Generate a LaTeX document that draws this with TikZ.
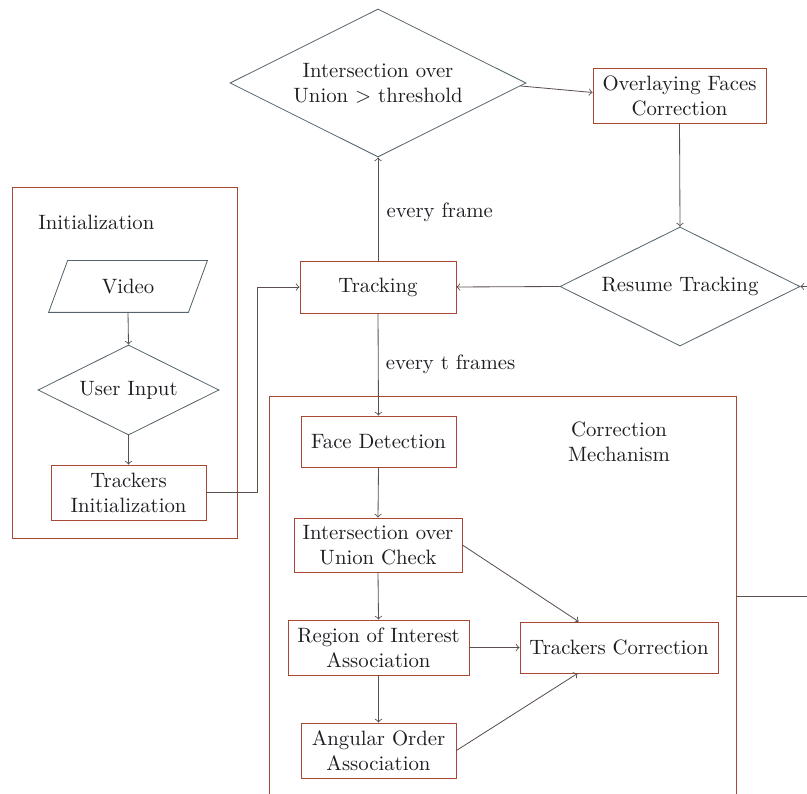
\documentclass[tikz,border=0pt]{standalone}
\usetikzlibrary{shapes.geometric,calc}
\definecolor{boxc}{RGB}{168,72,52}
\definecolor{diac}{RGB}{85,100,108}
\definecolor{linec}{RGB}{90,80,78}
\definecolor{txt}{RGB}{28,30,34}
\def\pxu{0.4817pt}
\tikzset{
  box/.style={draw=boxc, rectangle, align=center, inner sep=1pt, text=txt},
  dia/.style={draw=diac, diamond, aspect=2, align=center, inner sep=0pt, text=txt},
  frame/.style={draw=boxc, rectangle, inner sep=0pt},
  conn/.style={draw=linec, ->},
  plain/.style={draw=linec},
  lbl/.style={text=txt, inner sep=0pt, align=center}
}
\begin{document}
\begin{tikzpicture}[x=0.4817pt, y=-0.4817pt]
\useasboundingbox (0,0) rectangle (807,794);
\clip (0,0) rectangle (807,794);
% frames
\node[frame, minimum width=225*\pxu, minimum height=351*\pxu] (initbox) at (124.5,362.5) {};
\node[lbl, anchor=west] (initlbl) at (38,222) {Initialization};
\coordinate (cmbl) at (269,820);
\coordinate (cmbr) at (736,820);
\draw[boxc] (cmbl) -- (269,396) -- (736,396) -- (cmbr);
\node[lbl] (cmlbl) at (619,442) {Correction\\Mechanism};
% nodes
\node[inner sep=0pt, minimum width=158*\pxu, minimum height=51*\pxu, text=txt] (video) at (128,286.5) {Video};
\draw[diac] (video.south west) -- ($(video.south east)+(-19,0)$) -- (video.north east) -- ($(video.north west)+(19,0)$) -- cycle;
\node[dia, minimum width=181*\pxu, minimum height=90*\pxu] (uin) at (128.5,390) {User Input};
\node[box, minimum width=155*\pxu, minimum height=55*\pxu] (ti) at (128.5,492.5) {Trackers\\Initialization};
\node[box, minimum width=156*\pxu, minimum height=52*\pxu] (track) at (378,287) {Tracking};
\node[dia, minimum width=296*\pxu, minimum height=148*\pxu] (dtop) at (378,83) {Intersection over\\Union $>$ threshold};
\node[box, minimum width=173*\pxu, minimum height=55*\pxu] (ov) at (679.5,95.5) {Overlaying Faces\\Correction};
\node[dia, minimum width=240*\pxu, minimum height=119*\pxu] (resume) at (680,286.5) {Resume Tracking};
\node[box, minimum width=155*\pxu, minimum height=51*\pxu] (fd) at (378.5,441.5) {Face Detection};
\node[box, minimum width=168*\pxu, minimum height=54*\pxu] (iou) at (378,545) {Intersection over\\Union Check};
\node[box, minimum width=181*\pxu, minimum height=55*\pxu] (roi) at (378.5,647.5) {Region of Interest\\Association};
\node[box, minimum width=155*\pxu, minimum height=55*\pxu] (ang) at (378.5,750.5) {Angular Order\\Association};
\node[box, minimum width=198*\pxu, minimum height=51*\pxu] (tc) at (619,647.5) {Trackers Correction};
% free ends
\coordinate (rin) at (810,286.5);
\coordinate (rout) at (810,596);
\coordinate (cmr) at (736,596);
% connectors
\draw[conn] (video.south) -- (uin.north);
\draw[conn] (uin.south) -- (ti.north);
\draw[conn] (ti.east) -- ++(51,0) |- (track.west);
\draw[conn] (track.north) -- (dtop.south) node[lbl, pos=0.47, anchor=west, xshift=4pt] (ef) {every frame};
\draw[conn] ($(dtop.east)!0.04!(dtop.south)$) -- ($(ov.west)+(0,-3)$);
\draw[conn] (ov.south) -- (resume.north);
\draw[conn] (rin) -- (resume.east);
\draw[conn] (resume.west) -- (track.east);
\draw[conn] (track.south) -- (fd.north) node[lbl, pos=0.5, anchor=west, xshift=3.5pt] (etf) {every t frames};
\draw[conn] (fd.south) -- (iou.north);
\draw[conn] (iou.south) -- (roi.north);
\draw[conn] (roi.south) -- (ang.north);
\draw[conn] (iou.east) -- ($(tc.north west)+(59,0)$);
\draw[conn] (roi.east) -- (tc.west);
\draw[conn] (ang.east) -- ($(tc.south west)+(58,0)$);
\draw[plain] (cmr) -- (rout);
\end{tikzpicture}
\end{document}
